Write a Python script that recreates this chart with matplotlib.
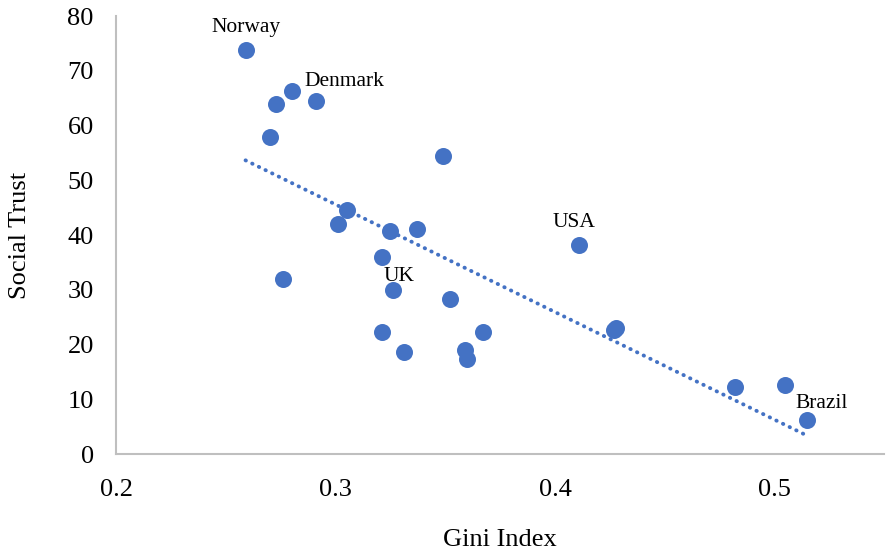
import numpy as np
import matplotlib
matplotlib.use("Agg")
import matplotlib.pyplot as plt

# Gini index vs social trust
gini = [0.259, 0.273, 0.280, 0.291, 0.270, 0.276, 0.301, 0.305, 0.325, 0.337,
        0.321, 0.326, 0.349, 0.352, 0.321, 0.331, 0.367, 0.359, 0.360, 0.411,
        0.427, 0.428, 0.482, 0.505, 0.515]
trust = [73.8, 63.9, 66.3, 64.5, 57.9, 31.9, 42.0, 44.6, 40.8, 41.1,
         35.9, 29.9, 54.4, 28.3, 22.2, 18.7, 22.3, 19.0, 17.3, 38.2,
         22.6, 23.0, 12.3, 12.6, 6.3]

labelled = ["Norway", "Denmark", "UK", "USA", "Brazil"]
label_idx = [0, 2, 11, 19, 24]

blue = "#4472C4"
grey = "#BFBFBF"

plt.rcParams["font.family"] = ["Liberation Serif", "DejaVu Serif"]

fig = plt.figure(figsize=(8.86, 5.53), dpi=100)
ax = fig.add_axes([0.131, 0.179, 0.867, 0.792])

ax.scatter(gini, trust, s=150, color=blue, zorder=3, linewidths=0)

# linear trendline
k, b = np.polyfit(gini, trust, 1)
xs = np.array([min(gini), max(gini)])
ax.plot(xs, k * xs + b, color=blue, lw=2.8, linestyle=(0, (0.1, 1.8)),
        dash_capstyle="round", zorder=2)

offsets = {"Norway": (0, 9, "center"), "Denmark": (9, 0, "left"),
           "UK": (5, 3, "center"), "USA": (-4, 9, "center"),
           "Brazil": (10, 5, "center")}
for name, i in zip(labelled, label_idx):
    dx, dy, ha = offsets[name]
    ax.annotate(name, (gini[i], trust[i]), xytext=(dx, dy),
                textcoords="offset points", ha=ha, va="bottom", fontsize=15.5)

ax.set_xlim(0.2, 0.55)
ax.set_ylim(0, 80)
ax.set_xticks([0.2, 0.3, 0.4, 0.5])
ax.set_xticklabels(["0.2", "0.3", "0.4", "0.5"])
ax.set_yticks(range(0, 81, 10))

for side in ["top", "right"]:
    ax.spines[side].set_visible(False)
for side in ["left", "bottom"]:
    ax.spines[side].set_color(grey)
    ax.spines[side].set_linewidth(1.5)

ax.tick_params(length=0, labelsize=19)
ax.tick_params(axis="x", pad=18)
ax.tick_params(axis="y", pad=16)
ax.set_xlabel("Gini Index", fontsize=19, labelpad=20)
ax.set_ylabel("Social Trust", fontsize=19, labelpad=26)

fig.savefig("out.png", dpi=100)
